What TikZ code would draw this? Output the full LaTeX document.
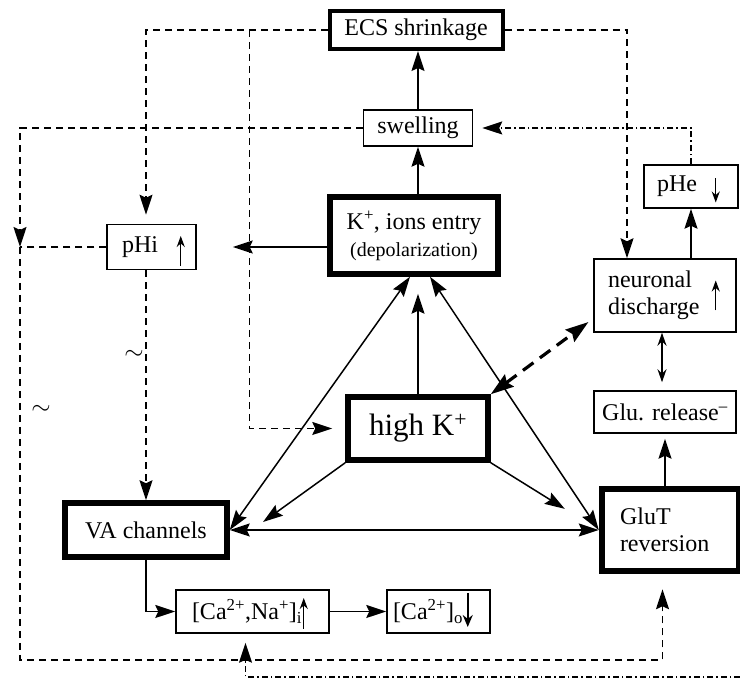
\documentclass[tikz,border=0pt]{standalone}
\usepackage{fontspec}
\setmainfont{Liberation Serif}
\usetikzlibrary{arrows.meta}

\begin{document}
\begin{tikzpicture}[x=1pt,y=1pt,
  font=\fontsize{24}{27}\selectfont,
  box/.style={draw,line width=1.5pt,inner sep=0pt,align=center},
  heavy/.style={box,line width=#1},
  fwd/.style={line width=1.5pt,-{Stealth[length=20pt,width=13pt,inset=3pt]}},
  twoway/.style={line width=1.5pt,{Stealth[length=20pt,width=13pt,inset=3pt]}-{Stealth[length=20pt,width=13pt,inset=3pt]}},
  dashline/.style={line width=1.5pt,dash pattern=on 7pt off 5pt},
  dotline/.style={line width=1.5pt,dash pattern=on 6pt off 3pt on 1.5pt off 3pt},
  bigdash/.style={line width=3.2pt,dash pattern=on 13pt off 8pt,{Stealth[length=23pt,width=15pt,inset=3pt]}-{Stealth[length=23pt,width=15pt,inset=3pt]}},
  glyph/.style={line width=1.4pt,-{Stealth[length=11pt,width=8pt]}}]
\useasboundingbox (0,0) rectangle (740,679);

% boxes
\node[heavy=4pt,minimum width=173pt,minimum height=38pt] (ecs) at (416,649) {ECS shrinkage};
\node[box,minimum width=109pt,minimum height=36pt] (swell) at (418,551) {swelling};
\node[heavy=5.5pt,minimum width=168pt,minimum height=77pt] (kion) at (414,443.5)
  {K\textsuperscript{+}, ions entry\\{\fontsize{20}{24}\selectfont (depolarization)}};
\node[box,minimum height=45pt,text width=59pt,inner xsep=15pt,align=left] (phi) at (151.5,432) {pHi};
\node[box,minimum height=43pt,text width=68pt,inner xsep=13pt,align=left] (phe) at (691,492.5) {pHe};
\node[box,minimum height=73pt,text width=114pt,inner xsep=14pt,align=left] (neur) at (665,383.5) {neuronal\\discharge};
\node[box,minimum width=142pt,minimum height=42pt] (glu) at (665,267) {Glu. release\textsuperscript{--}};
\node[heavy=5.5pt,minimum width=140pt,minimum height=63pt,font=\fontsize{31}{36}\selectfont] (highk) at (418,250.5) {high K\textsuperscript{+}};
\node[heavy=5.5pt,minimum width=162pt,minimum height=54pt] (va) at (146,149) {VA channels};
\node[heavy=6.5pt,minimum height=82pt,text width=101pt,inner xsep=18pt,align=left] (glut) at (670.5,149) {GluT\\reversion};
\node[box,minimum height=43pt,text width=121pt,inner xsep=16pt,align=left] (cai) at (252.5,67.5)
  {[Ca\textsuperscript{2+},Na\textsuperscript{+}]\textsubscript{i}};
\node[box,minimum height=43pt,text width=91pt,inner xsep=6pt,align=left] (cao) at (438.5,67.5)
  {[Ca\textsuperscript{2+}]\textsubscript{o}};
\node (wave1) at (134,324) {$\sim$};
\node (wave2) at (41,269) {$\sim$};

% up/down marks inside the boxes
\draw[glyph] ([xshift=-16pt,yshift=-19pt]phi.east) -- ++(0,30);
\draw[glyph] ([xshift=-23pt,yshift=8pt]phe.east) -- ++(0,-24);
\draw[glyph] ([xshift=-21pt,yshift=-15pt]neur.east) -- ++(0,30);
\draw[glyph] ([xshift=-26pt,yshift=-17.5pt]cai.east) -- ++(0,31);
\draw[line width=1.6pt,-{Stealth[length=12pt,width=10pt]}] ([xshift=-23pt,yshift=18.5pt]cao.east) -- ++(0,-34);

% free ends
\coordinate (ecsbranch) at ([xshift=-78pt]ecs.west);
\coordinate (leftjoin) at (20,432);
\coordinate (leftfoot) at (20,19);
\coordinate (rightfoot) at (740,2);
\coordinate (vahit) at (263,157);

% solid arrows
\draw[fwd] (swell.north) -- (swell.north |- ecs.south);
\draw[fwd] (swell.south |- kion.north) -- (swell.south);
\draw[fwd,shorten >=36pt] (kion.west |- phi.east) -- (phi.east);
\draw[fwd,shorten >=17pt] (highk.north) -- (highk.north |- kion.south);
\draw[twoway] ([xshift=-4pt]kion.south) -- (va.east);
\draw[twoway] ([xshift=16pt]kion.south) -- (glut.west);
\draw[twoway] (va.east) -- (glut.west);
\draw[fwd,shorten >=40pt] (highk.south east) -- (glut.west);
\draw[fwd] (highk.south west) -- (vahit);
\draw[fwd] (phe.south |- neur.north) -- (phe.south);
\draw[line width=1.5pt,{Stealth[length=13pt,width=9pt]}-{Stealth[length=13pt,width=9pt]},shorten >=8pt]
  ([xshift=-3pt]neur.south) -- ([xshift=-3pt]glu.north);
\draw[fwd,shorten >=5pt] (glu.south |- glut.north) -- (glu.south);
\draw[fwd] (va.south) |- (cai.west);
\draw[fwd] (cai.east) -- (cao.west);
\draw[bigdash,shorten >=6pt] (highk.north east) -- ([yshift=-23pt]neur.west);

% dashed feedback lines
\draw[dashline,fwd,shorten >=9pt] (ecs.west) -| (va.north |- phi.north);
\draw[dashline,fwd,shorten >=13pt] (ecsbranch) |- (highk.west);
\draw[dashline,fwd] (ecs.east) -| ([xshift=-38pt]neur.north);
\draw[dashline,fwd] (swell.west) -| (leftjoin);
\draw[dashline] (phi.west) -- (leftjoin);
\draw[dashline,fwd,shorten >=15pt] (leftjoin) -- (leftfoot) -| ([xshift=-8pt]glut.south);
\draw[dashline,fwd] (phi.south -| va.north) -- (va.north);

% dash-dot lines
\draw[dotline,fwd,shorten >=9pt] (phe.north) |- (swell.east);
\draw[dotline,fwd,shorten >=9pt] (rightfoot) -| ([xshift=-7pt]cai.south);
\end{tikzpicture}
\end{document}
